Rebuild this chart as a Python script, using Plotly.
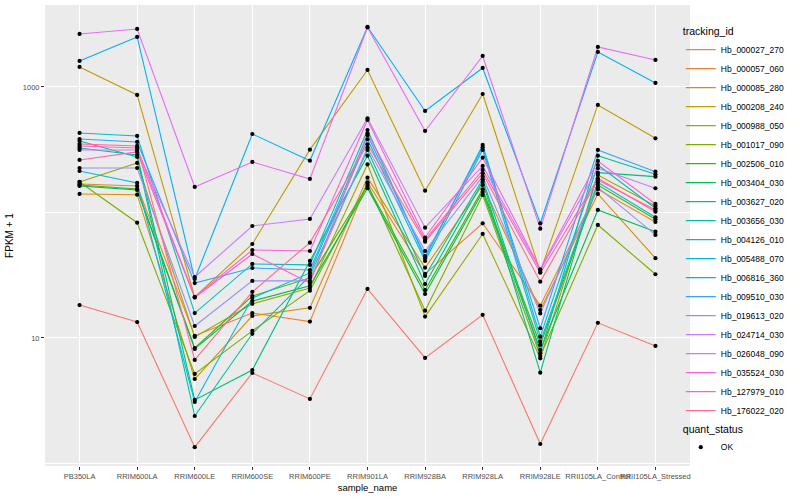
import plotly.graph_objects as go

samples = ["PB350LA", "RRIM600LA", "RRIM600LE", "RRIM600SE", "RRIM600PE", "RRIM901LA",
           "RRIM928BA", "RRIM928LA", "RRIM928LE", "RRII105LA_Control", "RRII105LA_Stressed"]

tracking_ids = ["Hb_000027_270", "Hb_000057_060", "Hb_000085_280", "Hb_000208_240", "Hb_000988_050",
                "Hb_001017_090", "Hb_002506_010", "Hb_003404_030", "Hb_003627_020", "Hb_003656_030",
                "Hb_004126_010", "Hb_005488_070", "Hb_006816_360", "Hb_009510_030", "Hb_019613_020",
                "Hb_024714_030", "Hb_026048_090", "Hb_035524_030", "Hb_127979_010", "Hb_176022_020"]

colors = ["#F8766D", "#EA8331", "#D89000", "#C09B00", "#A3A500", "#7CAE00", "#39B600", "#00BB4E",
          "#00BF7D", "#00C1A3", "#00BFC4", "#00BAE0", "#00B0F6", "#35A2FF", "#9590FF", "#C77CFF",
          "#E76BF3", "#FA62DB", "#FF62BC", "#FF6C91"]

# FPKM + 1 values, one list per tracking id, in the order of `samples`
hb_000027_270 = [18.3, 13.4, 1.35, 5.26, 3.27, 24.6, 6.93, 15.3, 1.43, 13.2, 8.64]
hb_000057_060 = [168.7, 162.6, 10.4, 15.8, 13.5, 174, 32.4, 82.0, 18.1, 153, 84.0]
hb_000085_280 = [140.4, 138.6, 4.71, 15.0, 17.4, 189.4, 36.3, 165.6, 16.7, 140.4, 43.2]
hb_000208_240 = [1443, 864, 21.2, 56.1, 316.5, 1366, 149.2, 879, 33.6, 719, 390]
hb_000988_050 = [175, 248, 10.2, 18.7, 25.0, 242, 14.8, 67.4, 6.89, 199, 112.7]
hb_001017_090 = [175, 82.9, 5.17, 11.4, 23.8, 168.7, 16.5, 137.9, 7.19, 79.5, 32.2]
hb_002506_010 = [165.6, 153.9, 8.32, 21.6, 30.1, 162.6, 24.1, 153, 8.80, 165.6, 88.3]
hb_003404_030 = [162.6, 151.1, 8.18, 19.7, 26.0, 155.9, 22.4, 146.4, 8.03, 104.7, 70.3]
hb_003627_020 = [326.5, 287.2, 3.21, 5.56, 41.1, 283.5, 26.9, 176, 5.29, 207.6, 192.9]
hb_003656_030 = [371.3, 276.8, 2.39, 10.8, 31.2, 314.8, 31.2, 183.9, 7.55, 283.5, 201.6]
hb_004126_010 = [430, 407, 15.8, 38.9, 38.2, 454, 43.2, 345, 10.24, 239, 108]
hb_005488_070 = [214, 171.8, 3.09, 20.8, 33.0, 383, 41.1, 314.8, 9.34, 174, 91.5]
hb_006816_360 = [1612, 2502, 29.5, 422, 258.7, 3007, 644, 1417, 82.0, 1900, 1076]
hb_009510_030 = [385, 364.6, 27.4, 36.1, 34.8, 412, 45.0, 330.7, 11.95, 314.8, 211.4]
hb_019613_020 = [226.2, 226.2, 12.46, 28.5, 28.5, 328.3, 49.3, 192.9, 15.7, 158.8, 66.2]
hb_024714_030 = [314.8, 314.8, 30.6, 78.0, 88.8, 563, 75.7, 234.7, 34.8, 225, 155.9]
hb_026048_090 = [2645, 2898, 159.7, 252.6, 184.9, 2980, 446, 1766, 74.3, 2083, 1641]
hb_035524_030 = [338.8, 326.5, 21.2, 50.2, 49.3, 546, 63.2, 273.3, 35.3, 257.3, 116.9]
hb_127979_010 = [262, 303.4, 21.0, 46.7, 27.4, 427.7, 60.4, 218.1, 33.1, 187.3, 101.5]
hb_176022_020 = [351.4, 338.8, 6.68, 23.3, 57.5, 349.4, 58.5, 205.3, 28.1, 181.5, 104.7]

series = [hb_000027_270, hb_000057_060, hb_000085_280, hb_000208_240, hb_000988_050,
          hb_001017_090, hb_002506_010, hb_003404_030, hb_003627_020, hb_003656_030,
          hb_004126_010, hb_005488_070, hb_006816_360, hb_009510_030, hb_019613_020,
          hb_024714_030, hb_026048_090, hb_035524_030, hb_127979_010, hb_176022_020]

FONT = "Liberation Sans, Arial, sans-serif"

fig = go.Figure()
for name, vals, col in zip(tracking_ids, series, colors):
    fig.add_trace(go.Scatter(
        x=samples, y=vals, mode="lines", name=name,
        line=dict(color=col, width=1.1), legend="legend",
    ))

# all points (quant_status = OK), drawn on top of the lines
pts_x = [s for vals in series for s in samples]
pts_y = [v for vals in series for v in vals]
fig.add_trace(go.Scatter(
    x=pts_x, y=pts_y, mode="markers", name="OK",
    marker=dict(color="black", size=4.2, symbol="circle"),
    legend="legend2",
))

fig.update_layout(
    width=800, height=500,
    margin=dict(l=45, r=110, t=5, b=34, autoexpand=False),
    paper_bgcolor="white", plot_bgcolor="#EBEBEB",
    font=dict(family=FONT, color="black"),
    showlegend=True,
    legend=dict(
        title=dict(text="tracking_id", font=dict(size=10.5, family=FONT)),
        font=dict(size=8.5, family=FONT),
        xref="container", yref="container",
        x=0.851, xanchor="left", y=0.957, yanchor="top",
        bgcolor="rgba(0,0,0,0)", tracegroupgap=0, itemwidth=30, maxheight=470,
    ),
    legend2=dict(
        title=dict(text="quant_status", font=dict(size=10.5, family=FONT)),
        font=dict(size=8.5, family=FONT),
        xref="container", yref="container",
        x=0.851, xanchor="left", y=0.162, yanchor="top",
        bgcolor="rgba(0,0,0,0)", itemwidth=30,
    ),
    xaxis=dict(
        type="category", categoryorder="array", categoryarray=samples,
        range=[-0.6, len(samples) - 0.4], tickangle=0, automargin=False,
        showgrid=True, gridcolor="white", gridwidth=1.1, zeroline=False,
        ticks="outside", ticklen=3, tickcolor="#333333",
        tickfont=dict(size=7.5, color="#4D4D4D", family=FONT),
        title=dict(text="sample_name", font=dict(size=9.5, family=FONT), standoff=4),
        showline=False,
    ),
    yaxis=dict(
        type="log", range=[-0.02, 3.653], automargin=False,
        tickmode="array", tickvals=[10, 1000], ticktext=["10", "1000"],
        showgrid=True, gridcolor="white", gridwidth=1.1, zeroline=False,
        ticks="outside", ticklen=3, tickcolor="#333333",
        tickfont=dict(size=7.5, color="#4D4D4D", family=FONT),
        minor=dict(tickmode="array", tickvals=[1, 100], showgrid=True,
                   gridcolor="white", gridwidth=0.5, ticklen=0),
        title=dict(text="FPKM + 1", font=dict(size=10, family=FONT), standoff=7),
        showline=False,
    ),
)

fig.write_html("out.html", config={"displayModeBar": False},
               post_script="document.body.style.margin='0';")
